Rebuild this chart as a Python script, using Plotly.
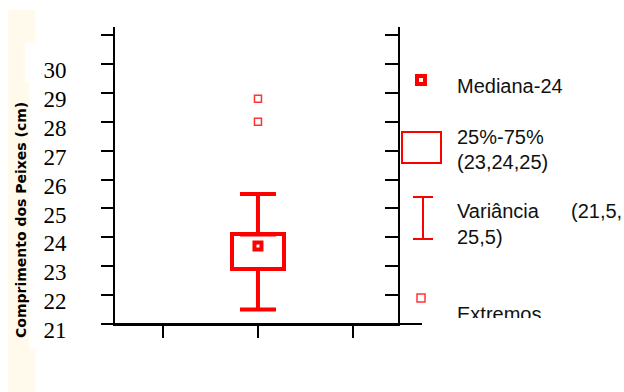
import plotly.graph_objects as go

# --- data ---------------------------------------------------------------
y_ticks = [21, 22, 23, 24, 25, 26, 27, 28, 29, 30, 31]
y_tick_labels = ["21", "22", "23", "24", "25", "26", "27", "28", "29", "30", ""]
x_ticks = [0, 1, 2]

box_x = [1]
median = [23.7]
q1 = [22.9]
q3 = [24.1]
whisker_low = [21.5]
whisker_high = [25.5]
extreme_x = [1, 1]
extreme_y = [28.8, 28.0]

legend_texts = ["Mediana-24", "25%-75%", "(23,24,25)", "Variância", "(21,5,", "25,5)", "Extremos"]

RED = "#ff0000"
W, H = 624, 392


def px_x(p):
    return p / W


def px_y(p):
    return 1 - p / H


fig = go.Figure()

# interquartile box
fig.add_trace(go.Bar(
    x=box_x, base=q1, y=[b - a for a, b in zip(q1, q3)], width=0.55,
    marker=dict(color="white", line=dict(color=RED, width=4)),
    xaxis="x", yaxis="y", hoverinfo="skip",
))

# upper whisker: from the top of the box to the high value
fig.add_trace(go.Scatter(
    x=box_x, y=q3, mode="markers",
    marker=dict(size=1, color="rgba(0,0,0,0)"),
    error_y=dict(type="data", symmetric=False,
                 array=[h - t for h, t in zip(whisker_high, q3)], arrayminus=[0],
                 color=RED, thickness=4, width=18),
    xaxis="x", yaxis="y", hoverinfo="skip",
))
# lower whisker: from the bottom of the box to the low value
fig.add_trace(go.Scatter(
    x=box_x, y=q1, mode="markers",
    marker=dict(size=1, color="rgba(0,0,0,0)"),
    error_y=dict(type="data", symmetric=False,
                 array=[0], arrayminus=[b - l for b, l in zip(q1, whisker_low)],
                 color=RED, thickness=4, width=18),
    xaxis="x", yaxis="y", hoverinfo="skip",
))

# median marker
fig.add_trace(go.Scatter(
    x=box_x, y=median, mode="markers",
    marker=dict(symbol="square-open", size=7, color=RED, line=dict(width=4, color=RED)),
    xaxis="x", yaxis="y", hoverinfo="skip",
))

# extreme values
fig.add_trace(go.Scatter(
    x=extreme_x, y=extreme_y, mode="markers",
    marker=dict(symbol="square-open", size=7, color=RED, opacity=0.8,
                line=dict(width=1.5, color=RED)),
    xaxis="x", yaxis="y", hoverinfo="skip",
))

# right-hand axis carries no data of its own; an empty trace makes it render
fig.add_trace(go.Scatter(x=[None], y=[None], mode="markers",
                         xaxis="x", yaxis="y3", hoverinfo="skip"))

# --- key on the right (pixel-like coordinates in its own subplot) --------
fig.add_trace(go.Scatter(
    x=[421], y=[80], mode="markers",
    marker=dict(symbol="square-open", size=8, color=RED, line=dict(width=4, color=RED)),
    xaxis="x2", yaxis="y2", hoverinfo="skip",
))
fig.add_trace(go.Scatter(
    x=[423], y=[218], mode="markers",
    marker=dict(size=1, color="rgba(0,0,0,0)"),
    error_y=dict(type="constant", value=21, color=RED, thickness=2, width=10),
    xaxis="x2", yaxis="y2", hoverinfo="skip",
))
fig.add_trace(go.Scatter(
    x=[421], y=[298], mode="markers",
    marker=dict(symbol="square-open", size=8, color=RED, opacity=0.8,
                line=dict(width=1.5, color=RED)),
    xaxis="x2", yaxis="y2", hoverinfo="skip",
))
text_x = [457, 457, 457, 457, 571, 457, 457]
text_y = [88, 139, 164, 213, 213, 239, 316]
fig.add_trace(go.Scatter(
    x=text_x, y=text_y, mode="text", text=legend_texts,
    textposition="middle right", cliponaxis=True,
    textfont=dict(family="Liberation Sans, Arial, sans-serif", size=20, color="#111111"),
    xaxis="x2", yaxis="y2", hoverinfo="skip",
))

shapes = [
    # pale strip on the far left
    dict(type="rect", xref="paper", yref="paper", layer="below",
         x0=px_x(8), x1=px_x(35), y0=px_y(10), y1=px_y(392),
         fillcolor="#fffaec", line=dict(width=0)),
    dict(type="rect", xref="paper", yref="paper", layer="below",
         x0=px_x(25), x1=px_x(35), y0=px_y(43), y1=px_y(82),
         fillcolor="white", line=dict(width=0)),
    dict(type="rect", xref="paper", yref="paper", layer="below",
         x0=px_x(29), x1=px_x(35), y0=px_y(82), y1=px_y(349),
         fillcolor="white", line=dict(width=0)),
    # extended baseline
    dict(type="line", xref="paper", yref="paper", layer="above",
         x0=px_x(103), x1=px_x(422), y0=px_y(324), y1=px_y(324),
         line=dict(color="black", width=2)),
    # key box symbol
    dict(type="rect", xref="x2", yref="y2", x0=402, x1=441, y0=132, y1=163,
         line=dict(color=RED, width=2), fillcolor="rgba(0,0,0,0)"),
]

y_range = [21, 31.28]
axis_common = dict(range=y_range, tickvals=y_ticks, showgrid=False, zeroline=False,
                   showline=True, linecolor="black", linewidth=2, automargin=False,
                   tickcolor="black", tickwidth=2, fixedrange=True)

fig.update_layout(
    width=W, height=H,
    margin=dict(l=0, r=0, t=0, b=0, autoexpand=False),
    paper_bgcolor="white", plot_bgcolor="rgba(0,0,0,0)",
    showlegend=False,
    bargap=0,
    shapes=shapes,
    xaxis=dict(domain=[px_x(115), px_x(398)], range=[-0.505, 2.474],
               tickvals=x_ticks, showticklabels=False, ticks="outside",
               ticklen=12, tickwidth=2, tickcolor="black", automargin=False,
               showline=True, linecolor="black", linewidth=2,
               showgrid=False, zeroline=False, fixedrange=True, anchor="y"),
    yaxis=dict(domain=[1 - 324 / H, 1 - 27 / H], ticktext=y_tick_labels,
               ticks="outside", ticklen=12, ticklabelshift=6, ticklabelstandoff=30,
               tickfont=dict(family="Liberation Serif, Times New Roman, serif",
                             size=23, color="black"),
               anchor="x", **axis_common),
    yaxis3=dict(overlaying="y", side="right", anchor="x", ticks="inside",
                ticklen=13, showticklabels=False, **axis_common),
    xaxis2=dict(domain=[px_x(400), 1], range=[400, 624], visible=False,
                automargin=False, fixedrange=True, anchor="y2"),
    yaxis2=dict(domain=[1 - 318 / H, 1 - 40 / H], range=[318, 40], visible=False,
                automargin=False, fixedrange=True, anchor="x2"),
    annotations=[dict(
        text="Comprimento dos Peixes (cm)", xref="paper", yref="paper",
        x=px_x(21), y=px_y(220), xanchor="center", yanchor="middle",
        textangle=-90, showarrow=False,
        font=dict(family="DejaVu Sans, Arial, sans-serif", size=14,
                  color="black", weight="bold"),
    )],
)

fig.write_html("out.html")
